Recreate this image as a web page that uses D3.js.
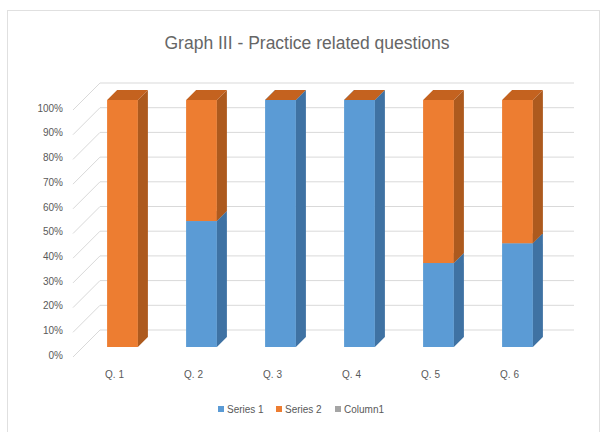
<!DOCTYPE html>
<html>
<head>
<meta charset="utf-8">
<script src="https://cdn.jsdelivr.net/npm/d3@7"></script>
<style>
  body { margin: 0; background: #fff; }
  text { font-family: "Liberation Sans", Arial, sans-serif; fill: #595959; }
</style>
</head>
<body>
<div id="chart"></div>
<script>
// chart data
var categories = ["Q. 1", "Q. 2", "Q. 3", "Q. 4", "Q. 5", "Q. 6"];
var series1 = [0, 51, 100, 100, 34, 42];
var series2 = [100, 49, 0, 0, 66, 58];
var legendNames = ["Series 1", "Series 2", "Column1"];
var yTicks = [0, 10, 20, 30, 40, 50, 60, 70, 80, 90, 100];

var svgWidth = 604, svgHeight = 432;

var svg = d3.select("#chart").append("svg")
  .attr("width", svgWidth)
  .attr("height", svgHeight);

// outer frame
svg.append("rect")
  .attr("x", 7.5).attr("y", 10.5)
  .attr("width", 592).attr("height", 440)
  .attr("fill", "#fff")
  .attr("stroke", "#e0e0e0");

// title
svg.append("text")
  .attr("x", 307).attr("y", 49)
  .attr("text-anchor", "middle")
  .style("font-size", "17.5px")
  .style("fill", "#666")
  .text("Graph III - Practice related questions");

// scales (front plane)
var x = d3.scaleBand()
  .domain(categories)
  .range([75, 549])
  .paddingInner(0.61)
  .paddingOuter(0.305);

var y = d3.scaleLinear()
  .domain([0, 100])
  .range([355, 108]);

// depth of the box and of the bars
var depth = 25;
var barOffset = 8;
var barDepth = 10;

// back wall gridlines and side wall diagonals
var grid = svg.append("g");
yTicks.forEach(function(t) {
  grid.append("line")
    .attr("x1", 75 + depth).attr("x2", 549 + depth)
    .attr("y1", y(t) - depth).attr("y2", y(t) - depth)
    .attr("stroke", "#d9d9d9");
  grid.append("line")
    .attr("x1", 73).attr("x2", 75 + depth)
    .attr("y1", y(t) + 2).attr("y2", y(t) - depth)
    .attr("stroke", "#d9d9d9");
});

// y axis labels
var leftAxis = d3.axisLeft(y)
  .tickValues(yTicks)
  .tickSize(0)
  .tickFormat(function(d) { return d + "%"; });

var yAxis = svg.append("g")
  .attr("transform", "translate(66, 0)")
  .call(leftAxis);
yAxis.select(".domain").remove();
yAxis.selectAll("text")
  .style("font-size", "10px")
  .style("font-family", "'Liberation Sans', Arial, sans-serif")
  .attr("fill", "#595959");

// x axis labels
var bottomAxis = d3.axisBottom(x).tickSize(0);
var xAxis = svg.append("g")
  .attr("transform", "translate(0, 368)")
  .call(bottomAxis);
xAxis.select(".domain").remove();
xAxis.selectAll("text")
  .style("font-size", "10px")
  .style("font-family", "'Liberation Sans', Arial, sans-serif")
  .attr("fill", "#595959");

// 3d stacked bars
var colors = [
  { front: "#5b9bd5", side: "#3f72a3", top: "#4a86bd" },
  { front: "#ed7d31", side: "#ad5a1e", top: "#c4621f" }
];

var stackData = categories.map(function(c, i) {
  return { cat: c, s1: series1[i], s2: series2[i] };
});
var stacked = d3.stack().keys(["s1", "s2"])(stackData);

var bars = svg.append("g");
categories.forEach(function(c, i) {
  var bx = x(c) + barOffset;
  var bw = x.bandwidth();
  stacked.forEach(function(layer, k) {
    var y0 = y(layer[i][0]) - barOffset;
    var y1 = y(layer[i][1]) - barOffset;
    var col = colors[k];
    if (y0 - y1 > 0) {
      // front face
      bars.append("rect")
        .attr("x", bx).attr("y", y1)
        .attr("width", bw).attr("height", y0 - y1)
        .attr("fill", col.front);
      // side face
      bars.append("path")
        .attr("d", "M" + (bx + bw) + "," + y1 +
          "L" + (bx + bw + barDepth) + "," + (y1 - barDepth) +
          "L" + (bx + bw + barDepth) + "," + (y0 - barDepth) +
          "L" + (bx + bw) + "," + y0 + "Z")
        .attr("fill", col.side);
    }
    // top face (drawn for the top series even when empty)
    if (y0 - y1 > 0 || k === stacked.length - 1) {
      bars.append("path")
        .attr("d", "M" + bx + "," + y1 +
          "L" + (bx + barDepth) + "," + (y1 - barDepth) +
          "L" + (bx + bw + barDepth) + "," + (y1 - barDepth) +
          "L" + (bx + bw) + "," + y1 + "Z")
        .attr("fill", col.top);
    }
  });
});

// legend
var legendColors = ["#5b9bd5", "#ed7d31", "#a5a5a5"];
var legendX = [218, 276, 335];
var legend = svg.append("g");
legendNames.forEach(function(name, i) {
  legend.append("rect")
    .attr("x", legendX[i]).attr("y", 406)
    .attr("width", 6).attr("height", 6)
    .attr("fill", legendColors[i]);
  legend.append("text")
    .attr("x", legendX[i] + 9).attr("y", 413)
    .style("font-size", "10px")
    .text(name);
});
</script>
</body>
</html>
